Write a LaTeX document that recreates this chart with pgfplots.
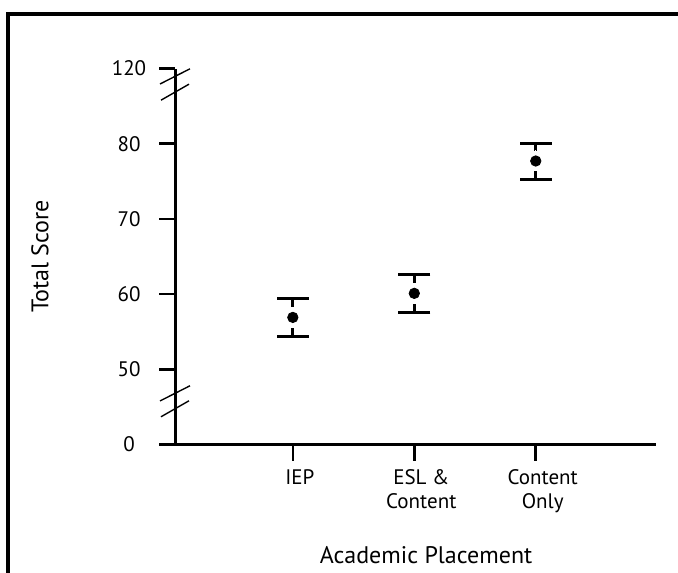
\documentclass[border=0pt]{standalone}
\usepackage{pgfplots}
\pgfplotsset{compat=1.18}
\usepackage{fontspec}
\setmainfont{PT Sans}
\begin{document}
\begin{tikzpicture}
\useasboundingbox (0,0) rectangle (339pt,286pt);
\draw[line width=1.6pt] (4pt,-5pt) -- (4pt,279pt) -- (345pt,279pt);
\begin{axis}[
  at={(87.5pt,63.75pt)}, anchor=south west,
  scale only axis, width=240.5pt, height=188pt,
  xmin=0.03, xmax=3.99, ymin=0, ymax=120,
  y coord trafo/.code={\pgfmathparse{#1<50 ? #1/50 : (#1>80 ? 4+(#1-80)/40 : (#1-40)/10)}},
  y coord inv trafo/.code={\pgfmathparse{#1<1 ? 50*#1 : (#1>4 ? 80+40*(#1-4) : 10*#1+40)}},
  axis x line=bottom, axis y line=left,
  axis line style={line width=1.5pt, -},
  clip=false,
  xtick={1,2,3}, xticklabels={IEP, {ESL \&\\Content}, {Content\\Only}},
  ytick={0,50,60,70,80,120}, yticklabels={0,50,60,70,80,120},
  tick align=outside,
  major tick length=8pt,
  tick style={line width=1.3pt, black},
  xticklabel style={align=center, font=\fontsize{10.5}{12}\selectfont, xshift=3.5pt, yshift=-1pt},
  yticklabel style={anchor=center, font=\fontsize{10.5}{12}\selectfont, xshift=-15pt},
  xlabel={Academic Placement}, ylabel={Total Score},
  label style={font=\fontsize{12}{14}\selectfont},
  xlabel style={at={(axis description cs:0.522,-0.3165)}, anchor=base},
  ylabel style={at={(axis description cs:-0.2807,0.5)}, anchor=center, rotate=0},
]
% error bars (lower and upper limits)
\addplot[black, line width=1.4pt, mark=-, mark size=8pt, unbounded coords=jump,
  mark options={line width=1.4pt}]
  coordinates {(1,54.4) (1,59.45) (1,nan) (2,57.6) (2,62.65) (2,nan) (3,75.2) (3,80.2)};
% white gap around means
\addplot[only marks, mark=*, mark size=5pt, draw=white, fill=white,
  mark options={draw=white, fill=white, line width=0pt}]
  coordinates {(1,56.9) (2,60.1) (3,77.7)};
% means
\addplot[only marks, mark=*, mark size=2.6pt, black, mark options={fill=black}]
  coordinates {(1,56.9) (2,60.1) (3,77.7)};
\draw[line width=0.7pt] (axis description cs:0,0.979) ++(-7.5pt,-3.8pt) -- ++(15pt,7.6pt);
\draw[line width=0.7pt] (axis description cs:0,0.937) ++(-7pt,-4pt) -- ++(14pt,8pt);
\draw[line width=0.7pt] (axis description cs:0,0.136) ++(-7.5pt,-3.8pt) -- ++(15pt,7.6pt);
\draw[line width=0.7pt] (axis description cs:0,0.095) ++(-7pt,-4pt) -- ++(14pt,8pt);
\end{axis}
\end{tikzpicture}
\end{document}
